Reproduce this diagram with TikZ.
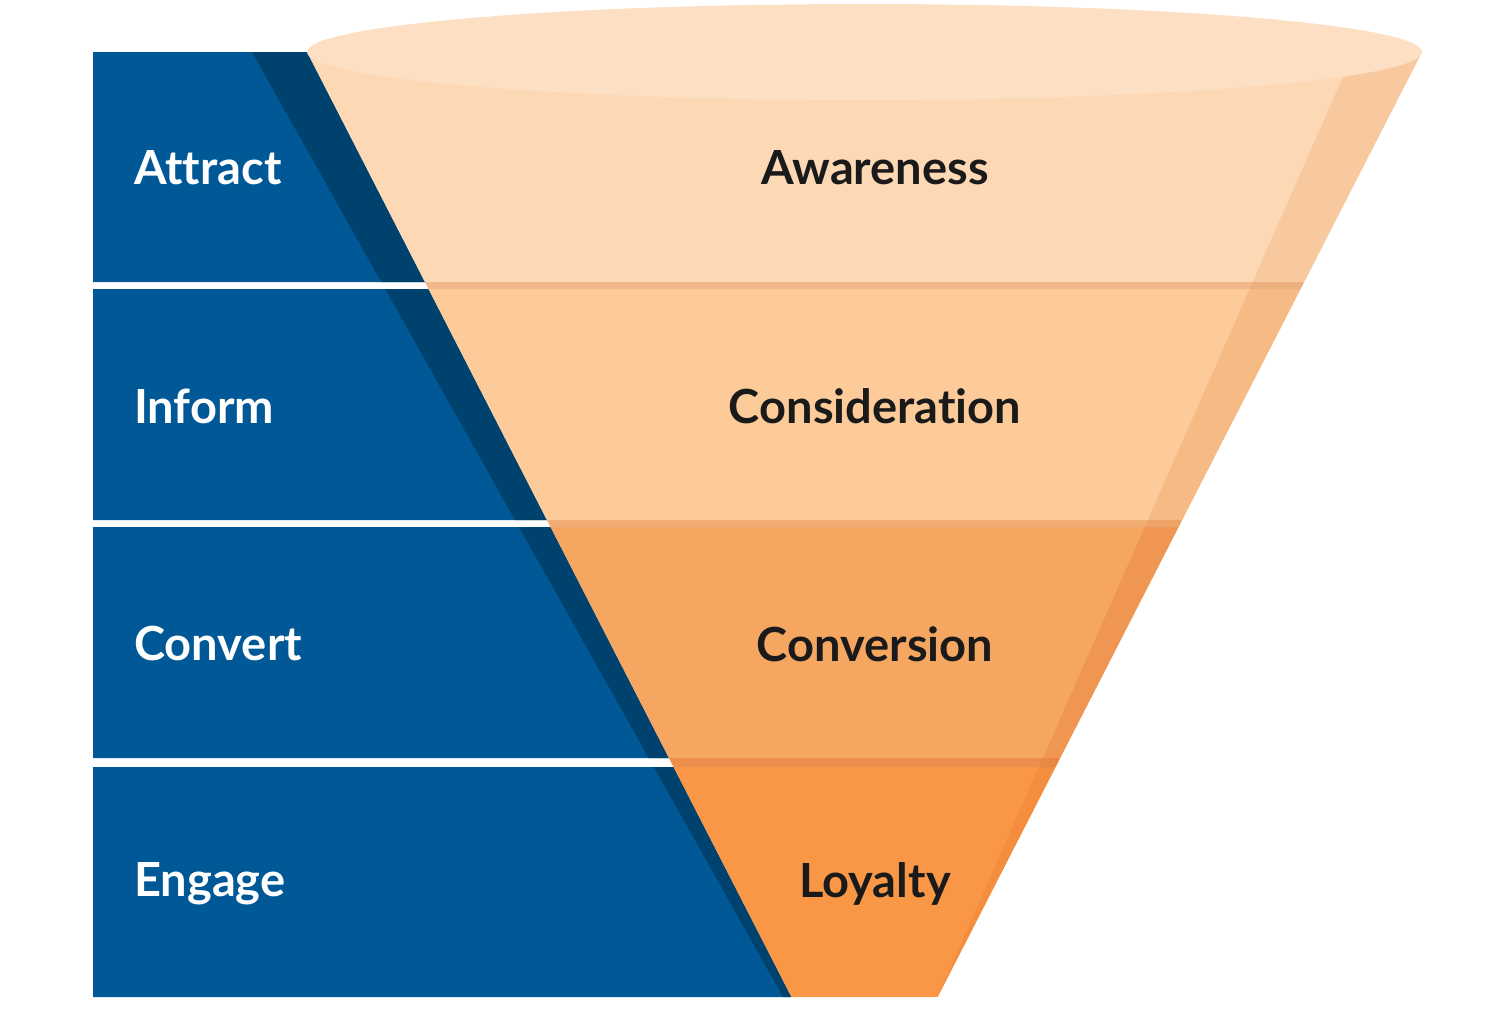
\documentclass[tikz,border=0pt]{standalone}
\usepackage{fontspec}
\setmainfont{Lato}[Ligatures=NoCommon]
\begin{document}
\begin{tikzpicture}[x=1pt,y=-1pt,
  declare function={xl(\t)=307+0.5126*(\t-52); xr(\t)=1422-0.5126*(\t-52);
                    xd(\t)=252+0.562*(\t-52); xs(\t)=1343-0.4407*(\t-77);},
  lbl/.style={font=\fontsize{47}{56}\selectfont\bfseries, inner sep=0pt},
  wlbl/.style={lbl, text=white, anchor=west},
  blbl/.style={lbl, text=txtdark, anchor=center}]
\definecolor{blu}{HTML}{005896}
\definecolor{dblu}{HTML}{00426E}
\definecolor{elc}{HTML}{FDE0C4}
\definecolor{aw}{HTML}{FDD8B5}
\definecolor{aws}{HTML}{F8C89E}
\definecolor{sepa}{HTML}{F1B88A}
\definecolor{sepas}{HTML}{ECB07F}
\definecolor{co}{HTML}{FDCB99}
\definecolor{cos}{HTML}{F6BB85}
\definecolor{sepb}{HTML}{F2AD74}
\definecolor{sepbs}{HTML}{EEA366}
\definecolor{cv}{HTML}{F5A762}
\definecolor{cvs}{HTML}{F09653}
\definecolor{sepc}{HTML}{EC8F4D}
\definecolor{sepcs}{HTML}{E98745}
\definecolor{ly}{HTML}{FA9746}
\definecolor{lys}{HTML}{F48D3E}
\definecolor{txtdark}{HTML}{1A1A1A}
\useasboundingbox (0,0) rectangle (1500,1015);
% blue bands
\foreach \a/\b in {52/282,289/520,527/758,767/997}{
  \fill[blu] (93,\a) -- ({xl(\a)},\a) -- ({xl(\b)},\b) -- (93,\b) -- cycle;
  \fill[dblu] ({xd(\a)},\a) -- ({xl(\a)},\a) -- ({xl(\b)},\b) -- ({xd(\b)},\b) -- cycle;
}
% funnel bands
\foreach \a/\b/\c/\s in {52/282/aw/aws,289/520/co/cos,527/758/cv/cvs,767/997/ly/lys}{
  \fill[\c] ({xl(\a)},\a) -- ({xr(\a)},\a) -- ({xr(\b)},\b) -- ({xl(\b)},\b) -- cycle;
  \fill[\s] ({xs(\a)},\a) -- ({xr(\a)},\a) -- ({xr(\b)},\b) -- ({xs(\b)},\b) -- cycle;
}
% separators
\foreach \a/\b/\c/\s in {282/289/sepa/sepas,520/527/sepb/sepbs,758/767/sepc/sepcs}{
  \fill[\c] ({xl(\a)},\a) -- ({xr(\a)},\a) -- ({xr(\b)},\b) -- ({xl(\b)},\b) -- cycle;
  \fill[\s] ({xs(\a)},\a) -- ({xr(\a)},\a) -- ({xr(\b)},\b) -- ({xs(\b)},\b) -- cycle;
}
% top ellipse
\fill[elc] (864.5,52) ellipse [x radius=557.5, y radius=48];
% labels
\node[wlbl] (attract) at (134,168) {Attract};
\node[wlbl] (inform)  at (134,406) {Inform};
\node[wlbl] (convert) at (134,644) {Convert};
\node[wlbl] (engage)  at (134,884) {Engage};
\node[blbl] (awareness) at (875,168) {Awareness};
\node[blbl] (consid)    at (875,406) {Consideration};
\node[blbl] (conversion) at (875,644) {Conversion};
\node[blbl] (loyalty)   at (875,884) {Loyalty};
\end{tikzpicture}
\end{document}
